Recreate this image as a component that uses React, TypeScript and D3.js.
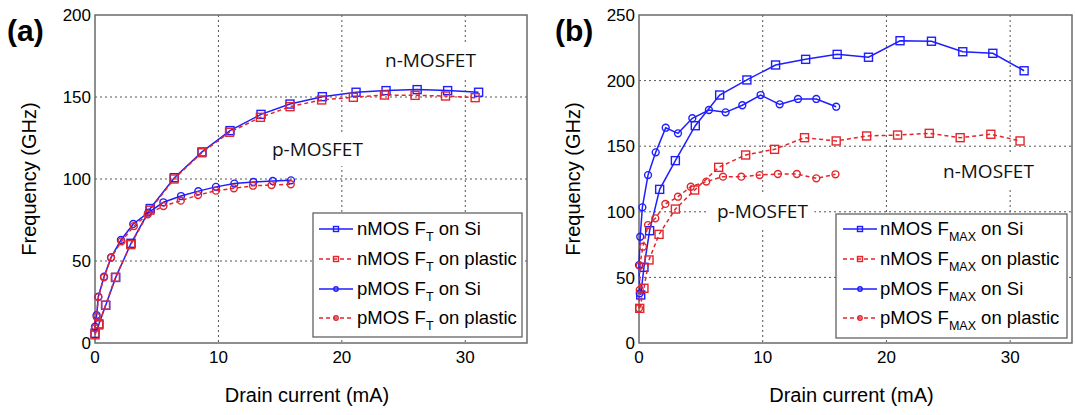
import React, { useEffect, useRef } from "react";
import * as d3 from "d3";

// ---------- Data (panel a: F_T) ----------
const ftNSiI = [0, 0.32, 0.87, 1.68, 2.92, 4.48, 6.43, 8.67, 10.94, 13.45, 15.8, 18.42, 21.15, 23.58, 26.1, 28.57, 31.08];
const ftNSiF = [5.9, 11.6, 23, 40, 60.8, 82, 100.8, 116.5, 129.5, 139.4, 145.7, 150.2, 152.9, 153.9, 154.5, 153.9, 152.9];
const ftNPlI = [0, 0.3, 0.85, 1.65, 2.9, 4.45, 6.4, 8.65, 10.9, 13.4, 15.8, 18.36, 20.93, 23.45, 25.93, 28.4, 30.8];
const ftNPlF = [5, 11, 23, 40, 60, 81, 100, 116, 128.5, 137.6, 144.1, 148.2, 149.8, 151.2, 151, 150.6, 149.6];
const ftPSiI = [0, 0.13, 0.27, 0.73, 1.3, 2.1, 3.1, 4.32, 5.54, 6.97, 8.37, 9.8, 11.29, 12.83, 14.4, 15.88];
const ftPSiF = [10, 17, 28.2, 40.4, 52.2, 62.8, 72.6, 79.5, 85.8, 89.6, 92.6, 95.2, 97.2, 98.2, 98.8, 99.2];
const ftPPlI = [0, 0.13, 0.27, 0.73, 1.3, 2.15, 3.15, 4.27, 5.55, 6.95, 8.35, 9.8, 11.25, 12.8, 14.3, 15.86];
const ftPPlF = [9, 16, 28, 40, 52, 62, 71.3, 78.5, 83.5, 86.8, 90.2, 92.9, 94.3, 95.9, 96.3, 96.8];

// ---------- Data (panel b: F_MAX) ----------
const fmNSiI = [0.14, 0.4, 0.86, 1.67, 2.94, 4.55, 6.52, 8.72, 11.04, 13.47, 16.02, 18.55, 21.1, 23.64, 26.17, 28.6, 31.13];
const fmNSiF = [36.6, 57.7, 85.6, 117.1, 139, 165.6, 189, 200.5, 211.9, 216.2, 220, 217.8, 230.4, 230, 222, 220.8, 207.5];
const fmNPlI = [0.06, 0.4, 0.81, 1.62, 2.94, 4.5, 6.44, 8.62, 10.96, 13.38, 15.94, 18.4, 20.9, 23.46, 25.96, 28.44, 30.8];
const fmNPlF = [26.4, 41.7, 63.3, 82.8, 102.1, 116.6, 133.9, 143.3, 147.6, 156.5, 154, 157.8, 158.5, 159.8, 156.5, 159.1, 154];
const fmPSiI = [0.06, 0, 0.1, 0.27, 0.73, 1.35, 2.16, 3.15, 4.31, 5.65, 7.0, 8.35, 9.83, 11.37, 12.85, 14.33, 15.94];
const fmPSiF = [37.9, 59.4, 81, 103.4, 128, 145.3, 164.1, 159.8, 171.3, 177.6, 175.8, 181.2, 189, 181.9, 186, 186, 180.1];
const fmPPlI = [0, 0.06, 0.06, 0.32, 0.73, 1.32, 2.13, 3.15, 4.18, 5.44, 6.79, 8.27, 9.75, 11.23, 12.76, 14.33, 15.88];
const fmPPlF = [26.4, 40.4, 58.9, 73.4, 89.9, 95, 106, 111.5, 119.1, 123, 126.8, 126.8, 128, 128.8, 128.8, 125.5, 128.6];

const xTicks = [0, 10, 20, 30];
const yTicksA = [0, 50, 100, 150, 200];
const yTicksB = [0, 50, 100, 150, 200, 250];

const BLUE = "#1e1eff";
const RED = "#e3262b";
const FONT = "'Liberation Sans', Arial, sans-serif";
const INK = "#000";

type Series = { xs: number[]; ys: number[]; color: string; dashed: boolean; marker: "square" | "circle"; label: string };

const panels = [
  {
    tag: "(a)",
    sub: "T",
    left: 95, right: 527, top: 15, bottom: 343,
    ymax: 200, yTicks: yTicksA,
    tagX: 7, yTitleX: 36,
    series: [
      { xs: ftNSiI, ys: ftNSiF, color: BLUE, dashed: false, marker: "square", label: "nMOS" },
      { xs: ftNPlI, ys: ftNPlF, color: RED, dashed: true, marker: "square", label: "nMOS" },
      { xs: ftPSiI, ys: ftPSiF, color: BLUE, dashed: false, marker: "circle", label: "pMOS" },
      { xs: ftPPlI, ys: ftPPlF, color: RED, dashed: true, marker: "circle", label: "pMOS" },
    ] as Series[],
    legend: { x0: 313, x1: 522, y0: 213, y1: 337, lineX0: 319, lineX1: 353, textX: 357 },
    notes: [
      { text: "n-MOSFET", x: 385, y: 67 },
      { text: "p-MOSFET", x: 272, y: 156 },
    ],
  },
  {
    tag: "(b)",
    sub: "MAX",
    left: 639, right: 1072, top: 15, bottom: 343,
    ymax: 250, yTicks: yTicksB,
    tagX: 555, yTitleX: 580,
    series: [
      { xs: fmNSiI, ys: fmNSiF, color: BLUE, dashed: false, marker: "square", label: "nMOS" },
      { xs: fmNPlI, ys: fmNPlF, color: RED, dashed: true, marker: "square", label: "nMOS" },
      { xs: fmPSiI, ys: fmPSiF, color: BLUE, dashed: false, marker: "circle", label: "pMOS" },
      { xs: fmPPlI, ys: fmPPlF, color: RED, dashed: true, marker: "circle", label: "pMOS" },
    ] as Series[],
    legend: { x0: 836, x1: 1067, y0: 214, y1: 338, lineX0: 843, lineX1: 877, textX: 880 },
    notes: [
      { text: "n-MOSFET", x: 943, y: 178 },
      { text: "p-MOSFET", x: 717, y: 218 },
    ],
  },
];

const legendRows = [229, 259, 289, 318];
const legendSuffix = [" on Si", " on plastic", " on Si", " on plastic"];

export default function App() {
  const ref = useRef<SVGSVGElement | null>(null);

  useEffect(() => {
    const svg = d3.select(ref.current);
    svg.selectAll("*").remove();
    svg.append("rect").attr("width", 1075).attr("height", 415).attr("fill", "#fff");

    panels.forEach((p) => {
      const x = d3.scaleLinear().domain([0, 35]).range([p.left, p.right]);
      const y = d3.scaleLinear().domain([0, p.ymax]).range([p.bottom, p.top]);
      const g = svg.append("g");

      // grid
      xTicks.filter((t) => t > 0).forEach((t) => {
        g.append("line").attr("x1", x(t)).attr("x2", x(t)).attr("y1", p.top).attr("y2", p.bottom)
          .attr("stroke", "#555").attr("stroke-width", 1).attr("stroke-dasharray", "2,3");
      });
      p.yTicks.filter((t) => t > 0 && t < p.ymax).forEach((t) => {
        g.append("line").attr("x1", p.left).attr("x2", p.right).attr("y1", y(t)).attr("y2", y(t))
          .attr("stroke", "#555").attr("stroke-width", 1).attr("stroke-dasharray", "2,3");
      });

      // annotations with white background
      p.notes.forEach((n) => {
        const t = g.append("text").attr("x", n.x).attr("y", n.y)
          .attr("font-family", "'Open Sans', sans-serif").attr("font-size", 19).attr("fill", "#111").text(n.text);
        const bb = (t.node() as SVGTextElement).getBBox();
        g.insert("rect", "text:last-child").attr("x", bb.x - 10).attr("y", bb.y - 4)
          .attr("width", bb.width + 16).attr("height", bb.height + 8).attr("fill", "#fff");
        t.raise();
      });

      // axes box
      g.append("rect").attr("x", p.left).attr("y", p.top).attr("width", p.right - p.left)
        .attr("height", p.bottom - p.top).attr("fill", "none").attr("stroke", "#6a6a6a").attr("stroke-width", 1.5);

      // tick labels
      xTicks.forEach((t) => {
        g.append("text").attr("x", x(t)).attr("y", 363).attr("text-anchor", "middle")
          .attr("font-family", FONT).attr("font-size", 17).attr("fill", INK).text(String(t));
      });
      p.yTicks.forEach((t) => {
        g.append("text").attr("x", p.left - 4).attr("y", y(t)).attr("dy", "0.36em").attr("text-anchor", "end")
          .attr("font-family", FONT).attr("font-size", 17).attr("fill", INK).text(String(t));
      });

      // axis titles
      g.append("text").attr("x", (p.left + p.right) / 2 - 4).attr("y", 402).attr("text-anchor", "middle")
        .attr("font-family", FONT).attr("font-size", 20).attr("fill", INK).text("Drain current (mA)");
      g.append("text").attr("transform", `translate(${p.yTitleX},${(p.top + p.bottom) / 2}) rotate(-90)`)
        .attr("text-anchor", "middle").attr("font-family", FONT).attr("font-size", 20).attr("fill", INK)
        .text("Frequency (GHz)");

      // panel tag
      g.append("text").attr("x", p.tagX).attr("y", 41).attr("font-family", FONT).attr("font-weight", "bold")
        .attr("font-size", 30).attr("fill", INK).text(p.tag);

      // series
      const drawMarker = (sel: any, cx: number, cy: number, s: Series, size: number) => {
        if (s.marker === "square") {
          sel.append("rect").attr("x", cx - size / 2).attr("y", cy - size / 2).attr("width", size).attr("height", size)
            .attr("fill", "none").attr("stroke", s.color).attr("stroke-width", 1.4);
        } else {
          sel.append("circle").attr("cx", cx).attr("cy", cy).attr("r", size / 2 - 0.3)
            .attr("fill", "none").attr("stroke", s.color).attr("stroke-width", 1.4);
        }
      };

      p.series.forEach((s) => {
        const pts = s.xs.map((v, i) => [x(v), y(s.ys[i])] as [number, number]);
        const line = d3.line();
        g.append("path").attr("d", line(pts)).attr("fill", "none").attr("stroke", s.color)
          .attr("stroke-width", 1.5).attr("stroke-dasharray", s.dashed ? "4,3" : null);
        pts.forEach(([cx, cy]) => drawMarker(g, cx, cy, s, s.marker === "square" ? 8 : 7.5));
      });

      // legend
      const L = p.legend;
      g.append("rect").attr("x", L.x0).attr("y", L.y0).attr("width", L.x1 - L.x0).attr("height", L.y1 - L.y0)
        .attr("fill", "#fff").attr("stroke", "#555").attr("stroke-width", 1.2);
      p.series.forEach((s, i) => {
        const ry = legendRows[i];
        g.append("line").attr("x1", L.lineX0).attr("x2", L.lineX1).attr("y1", ry).attr("y2", ry)
          .attr("stroke", s.color).attr("stroke-width", 1.5).attr("stroke-dasharray", s.dashed ? "4,3" : null);
        drawMarker(g, (L.lineX0 + L.lineX1) / 2, ry, s, 5);
        const t = g.append("text").attr("x", L.textX).attr("y", ry + 6).attr("font-family", FONT)
          .attr("font-size", 18.5).attr("fill", INK);
        t.append("tspan").text(`${s.label} F`);
        t.append("tspan").attr("font-size", 12.5).attr("dy", 6).text(p.sub);
        t.append("tspan").attr("dy", -6).text(legendSuffix[i]);
      });
    });
  }, []);

  return (
    <svg ref={ref} width={1075} height={415} style={{ position: "absolute", left: 0, top: 0, display: "block" }} />
  );
}
